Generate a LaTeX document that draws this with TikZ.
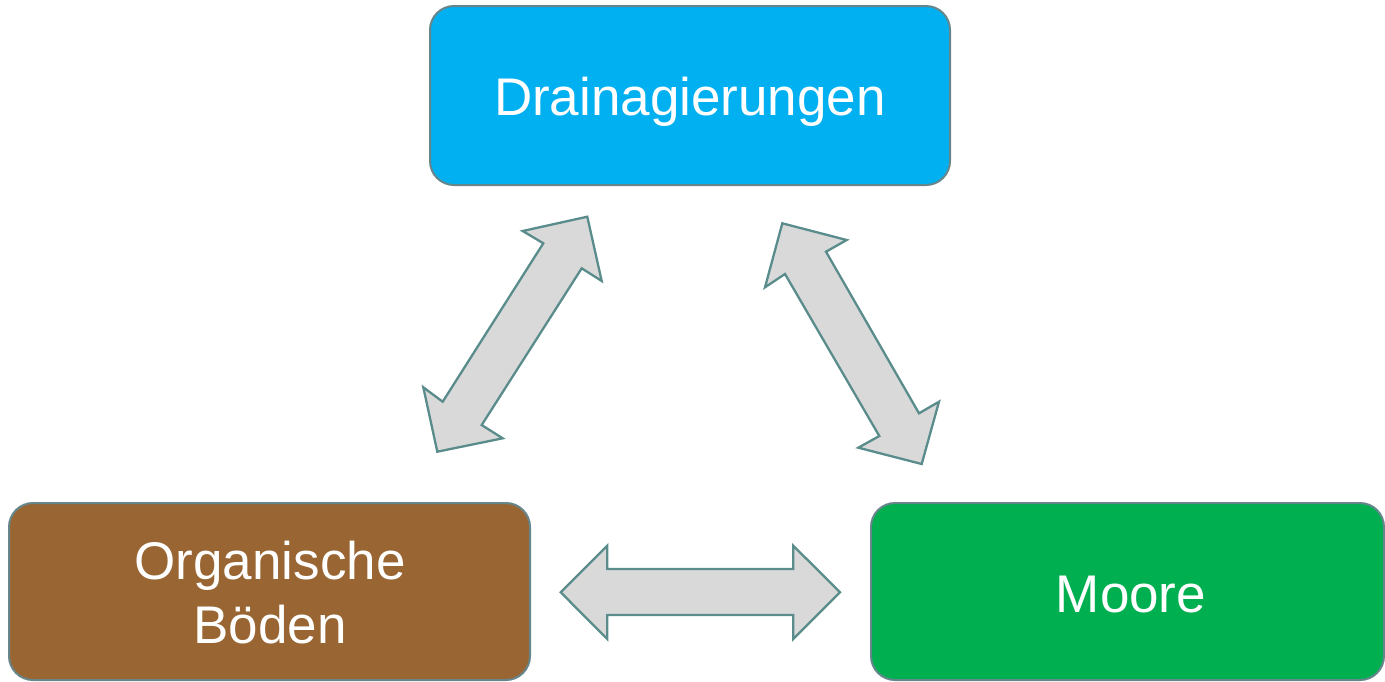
\documentclass[tikz,border=0pt]{standalone}
\usepackage{fontspec}
\setmainfont{Liberation Sans}
\definecolor{cblue}{HTML}{00B0F0}
\definecolor{cbrown}{HTML}{996633}
\definecolor{cgreen}{HTML}{00B050}
\definecolor{afill}{HTML}{D9D9D9}
\definecolor{astroke}{HTML}{5A8C8C}
\definecolor{bstroke}{HTML}{66868C}
\begin{document}
\begin{tikzpicture}[x=1pt,y=-1pt,
  box/.style={draw=bstroke, line width=2pt, rounded corners=24pt, inner sep=0pt, outer sep=0pt},
  lbl/.style={text=white, font=\fontsize{53}{64}\selectfont, inner sep=0pt, align=center},
  blockarrow/.style={draw=astroke, fill=afill, line width=2.3pt, line join=miter}]
\useasboundingbox (0,0) rectangle (1385,681);
% boxes
\node[box, fill=cblue, minimum width=520pt, minimum height=179pt] (dr) at (690,95.5) {};
\node[box, fill=cbrown, minimum width=521pt, minimum height=177pt] (ob) at (269.5,591.5) {};
\node[box, fill=cgreen, minimum width=513pt, minimum height=177pt] (mo) at (1127.5,591.5) {};
% labels
\node[lbl, anchor=base] (drt) at (690,115) {Drainagierungen};
\node[lbl] (obt) at (270,592.7) {Organische\\Böden};
\node[lbl, anchor=base] (mot) at (1131,612.3) {Moore};
% block arrows
\draw[blockarrow] (587.3,216.7) -- (601.7,281) -- (581.7,268.3) -- (481.7,425) -- (502.7,438.3)
  -- (437.3,451.7) -- (423.3,387.3) -- (442.7,401.7) -- (543.3,243.3) -- (522.7,231) -- cycle;
\draw[blockarrow] (782.3,223.3) -- (846.7,240) -- (826,251.7) -- (919,413.3) -- (939,401.7)
  -- (921.7,464) -- (858.3,447.7) -- (879.3,436) -- (785,274) -- (765,287.3) -- cycle;
\draw[blockarrow] (560.7,592.3) -- (607.3,545.7) -- (607.3,569) -- (793.3,569) -- (793.3,545.7)
  -- (840,592.3) -- (793.3,639) -- (793.3,615) -- (607.3,615) -- (607.3,639) -- cycle;
\end{tikzpicture}
\end{document}
